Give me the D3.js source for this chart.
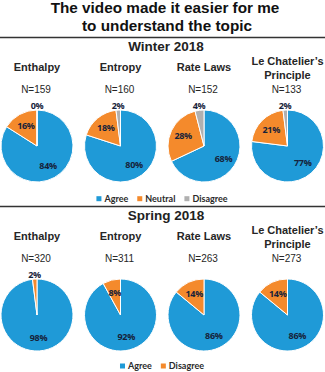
<!DOCTYPE html>
<html>
<head>
<meta charset="utf-8">
<script src="https://d3js.org/d3.v7.min.js"></script>
<style>
  body { margin: 0; background: #fff; }
</style>
</head>
<body>
<div id="chart"></div>
<script>
// data
const topics = ["Enthalpy", "Entropy", "Rate Laws", "Le Chatelier\u2019s Principle"];
const winterN = [159, 160, 152, 133];
const winterAgree = [84, 80, 68, 77];
const winterNeutral = [16, 18, 28, 21];
const winterDisagree = [0, 2, 4, 2];
const springN = [320, 311, 263, 273];
const springAgree = [98, 92, 86, 86];
const springDisagree = [2, 8, 14, 14];

const width = 325, height = 372;

const svg = d3.select("#chart")
  .append("svg")
    .attr("width", width)
    .attr("height", height);

const color = d3.scaleOrdinal()
  .domain(["Agree", "Neutral", "Disagree"])
  .range(["#1f9ad7", "#f48a2c", "#b0b0b0"]);
const springColor = d3.scaleOrdinal()
  .domain(["Agree", "Disagree"])
  .range(["#1f9ad7", "#f48a2c"]);

// one column per topic
const x = d3.scalePoint()
  .domain(topics)
  .range([37, 287.5]);

const r = 36;
const arc = d3.arc().innerRadius(0).outerRadius(r);
const pie = d3.pie().sort(null).value(d => d.value);

// title
svg.append("text")
  .attr("x", 165).attr("y", 12.5)
  .attr("text-anchor", "middle")
  .style("font", "bold 15.3px 'Liberation Sans', Arial, sans-serif")
  .style("fill", "#111")
  .text("The video made it easier for me");
svg.append("text")
  .attr("x", 167).attr("y", 30.5)
  .attr("text-anchor", "middle")
  .style("font", "bold 15.3px 'Liberation Sans', Arial, sans-serif")
  .style("fill", "#111")
  .text("to understand the topic");

function panel(top, title, rows, nVals, col, legendY) {
  // separator line
  svg.append("line")
    .attr("x1", 0).attr("x2", width)
    .attr("y1", top).attr("y2", top)
    .style("stroke", "#333")
    .style("stroke-width", 1.6);

  svg.append("text")
    .attr("x", 166).attr("y", top + 13.2)
    .attr("text-anchor", "middle")
    .style("font", "bold 13.5px 'Liberation Sans', Arial, sans-serif")
    .style("fill", "#222")
    .text(title);

  topics.forEach(function(t, i) {
    const g = svg.append("g").attr("transform", `translate(${x(t)},0)`);

    // topic name, Le Chatelier's wraps on two lines
    if (t.startsWith("Le ")) {
      g.append("text")
        .attr("y", top + 27.5)
        .attr("text-anchor", "middle")
        .style("font", "bold 11px 'Liberation Sans', Arial, sans-serif")
        .style("fill", "#262626")
        .text("Le Chatelier\u2019s");
      g.append("text")
        .attr("y", top + 41)
        .attr("text-anchor", "middle")
        .style("font", "bold 11px 'Liberation Sans', Arial, sans-serif")
        .style("fill", "#262626")
        .text("Principle");
    } else {
      g.append("text")
        .attr("y", top + 33)
        .attr("text-anchor", "middle")
        .style("font", "bold 11px 'Liberation Sans', Arial, sans-serif")
        .style("fill", "#262626")
        .text(t);
    }

    g.append("text")
      .attr("y", top + 55)
      .attr("x", -1)
      .attr("text-anchor", "middle")
      .style("font", "10px 'Liberation Sans', Arial, sans-serif")
      .style("fill", "#262626")
      .text("N=" + nVals[i]);

    const data = col.domain().map(k => ({key: k, value: rows[k][i]}));
    const pg = g.append("g").attr("transform", `translate(0,${top + 108.5})`);

    pg.selectAll("path")
      .data(pie(data))
      .join("path")
        .attr("d", arc)
        .style("fill", d => col(d.data.key))
        .style("stroke", "#fff")
        .style("stroke-width", 1);

    pg.selectAll("text")
      .data(pie(data))
      .join("text")
        .attr("transform", function(d) {
          const a = (d.startAngle + d.endAngle) / 2;
          const rr = d.data.value < 5 ? r + 4 : r * 0.64;
          return `translate(${Math.sin(a) * rr},${-Math.cos(a) * rr})`;
        })
        .attr("dy", "0.35em")
        .attr("text-anchor", "middle")
        .style("font", "bold 9px 'Open Sans', Lato, sans-serif")
        .style("letter-spacing", "-0.3px")
        .style("fill", "#16223a")
        .text(d => d.data.value + "%");
  });

  // legend, centred
  const lg = svg.append("g").attr("transform", `translate(0,${legendY})`);
  let pos = 0;
  col.domain().forEach(function(k) {
    const it = lg.append("g");
    it.append("rect")
      .attr("y", -2.5).attr("width", 5).attr("height", 5)
      .style("fill", col(k));
    const tx = it.append("text")
      .attr("x", 8).attr("dy", "0.35em")
      .style("font", "bold 9px Lato, 'Open Sans', sans-serif")
      .style("fill", "#2a2a2a")
      .text(k);
    const w = 8 + tx.node().getComputedTextLength();
    it.attr("transform", `translate(${pos},0)`);
    pos += w + 9;
  });
  const total = pos - 9;
  lg.attr("transform", `translate(${162 - total / 2},${legendY})`);
}

panel(37.5,
  "Winter 2018",
  {Agree: winterAgree, Neutral: winterNeutral, Disagree: winterDisagree},
  winterN, color, 198.7);

panel(206.5,
  "Spring 2018",
  {Agree: springAgree, Disagree: springDisagree},
  springN, springColor, 366);
</script>
</body>
</html>
